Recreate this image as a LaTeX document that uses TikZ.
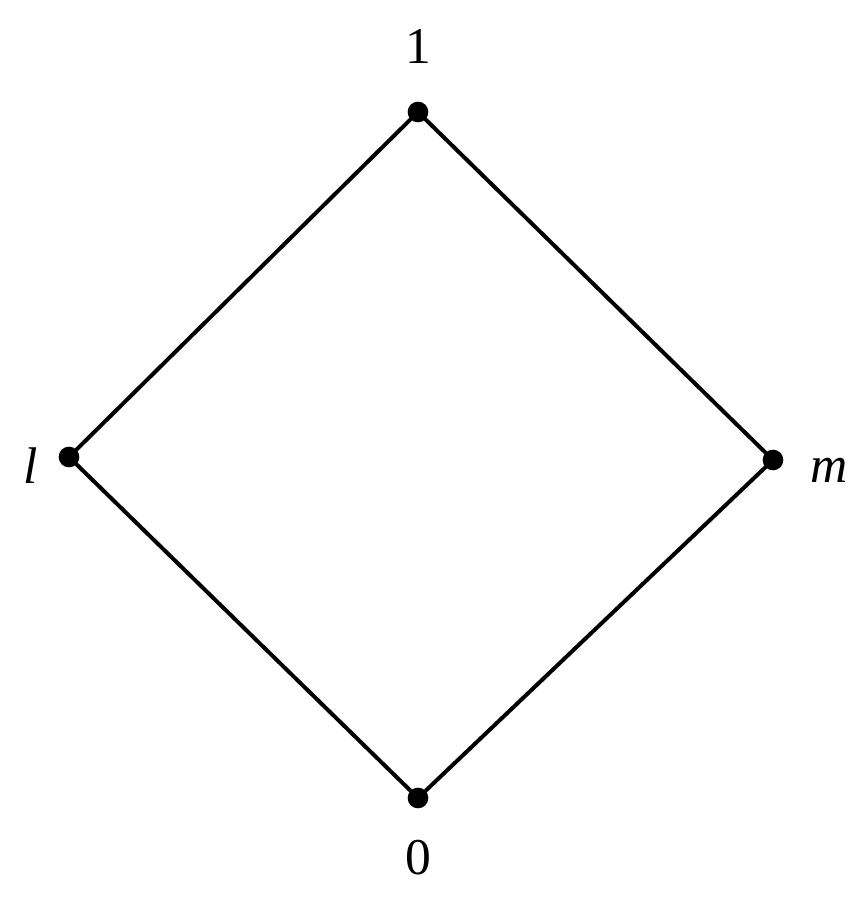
\documentclass[tikz,border=0pt]{standalone}
\usepackage{fontspec}
\setmainfont{Liberation Serif}
\begin{document}
\begin{tikzpicture}[x=0.03cm,y=-0.03cm,
  dot/.style={circle,fill=black,inner sep=0pt,minimum size=0.62cm},
  lbl/.style={font=\fontsize{44}{50}\selectfont,inner sep=0pt},
  edge/.style={line width=3.4pt}]
\useasboundingbox (0,0) rectangle (866,905);
\node[dot] (t) at (418,112) {};
\node[dot] (l) at (69,457) {};
\node[dot] (r) at (773,460) {};
\node[dot] (b) at (418,798) {};
\draw[edge] (t.center) -- (l.center) -- (b.center) -- (r.center) -- (t.center);
\node[lbl] (tl) at (418,46) {1};
\node[lbl] (ll) at (31,466) {\textit{l}};
\node[lbl] (rl) at (829,470) {\textit{m}};
\node[lbl] (bl) at (418,858) {0};
\end{tikzpicture}
\end{document}
